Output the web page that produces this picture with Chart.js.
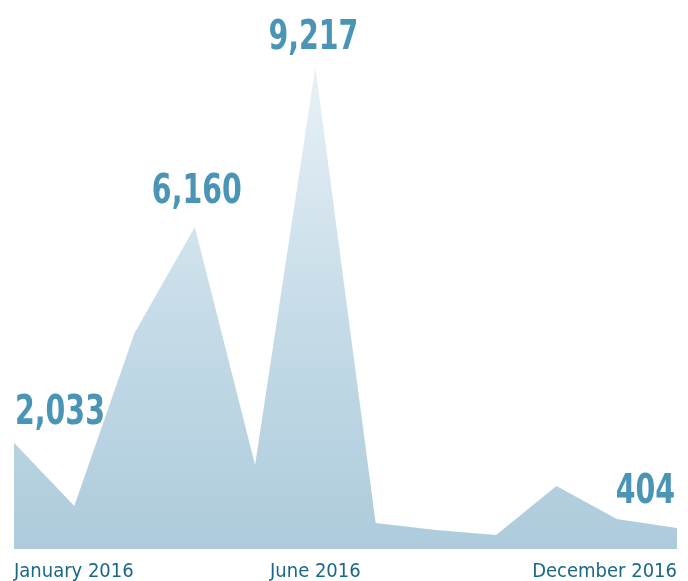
<!DOCTYPE html>
<html>
<head>
<meta charset="utf-8">
<script src="https://cdn.jsdelivr.net/npm/chart.js@4/dist/chart.umd.min.js"></script>
<style>
  html, body { margin: 0; padding: 0; background: #fff; }
  #wrap { width: 688px; height: 581px; }
</style>
</head>
<body>
<div id="wrap"><canvas id="grafico" width="688" height="581"></canvas></div>
<script>
const months = ['January 2016', 'February 2016', 'March 2016', 'April 2016', 'May 2016', 'June 2016',
  'July 2016', 'August 2016', 'September 2016', 'October 2016', 'November 2016', 'December 2016'];
const visits = [2033, 822, 4130, 6160, 1606, 9217, 497, 363, 268, 1205, 574, 404];
const shownTicks = [0, 5, 11];
const labelled = [0, 3, 5, 11];

const FONT = '"DejaVu Sans Condensed", "Liberation Sans Narrow", sans-serif';

// where each big number sits relative to its point: [align, dx, dy]
const labelPos = {
  0: ['left', 1, -19],
  3: ['center', 2, -24],
  5: ['center', -2, -18],
  11: ['right', -2, -25]
};

// draws the big numbers above selected points (squeezed to look condensed)
const valueLabels = {
  id: 'valueLabels',
  afterDatasetsDraw(chart) {
    const ctx = chart.ctx;
    const x = chart.scales.x, y = chart.scales.y;
    const squeeze = 0.79;
    ctx.save();
    ctx.font = 'bold 40px ' + FONT;
    ctx.fillStyle = '#4a95b5';
    ctx.textBaseline = 'alphabetic';
    labelled.forEach(i => {
      const p = labelPos[i];
      const px = x.getPixelForValue(i) + p[1];
      const py = y.getPixelForValue(visits[i]) + p[2];
      const txt = visits[i].toLocaleString('en-US');
      ctx.save();
      ctx.translate(px, py);
      ctx.scale(squeeze, 1);
      ctx.textAlign = p[0];
      ctx.fillText(txt, 0, 0);
      ctx.restore();
    });
    ctx.restore();
  }
};

const ctx = document.getElementById('grafico').getContext('2d');
new Chart(ctx, {
  type: 'line',
  data: {
    labels: months,
    datasets: [{
      data: visits,
      borderWidth: 0,
      pointRadius: 0,
      tension: 0,
      fill: 'origin',
      backgroundColor: function(c) {
        const area = c.chart.chartArea;
        if (!area) return '#b0d0e0';
        const g = c.chart.ctx.createLinearGradient(0, c.chart.scales.y.getPixelForValue(9217), 0, area.bottom);
        g.addColorStop(0, '#e9f1f7');
        g.addColorStop(0.5, '#c6dce8');
        g.addColorStop(1, '#adcbdc');
        return g;
      }
    }]
  },
  options: {
    responsive: false,
    animation: false,
    layout: { padding: { left: 14, right: 11, top: 0, bottom: 0 } },
    plugins: { legend: { display: false }, tooltip: { enabled: false } },
    scales: {
      x: {
        offset: false,
        grid: { display: false, drawTicks: false },
        border: { display: false },
        afterFit: function(s) { s.height = 32; },
        ticks: {
          autoSkip: false,
          maxRotation: 0,
          align: 'inner',
          padding: 11,
          color: '#1b6787',
          font: { family: FONT, size: 20 },
          callback: function(v, i) { return shownTicks.includes(i) ? months[i] : ''; }
        }
      },
      y: {
        display: false,
        min: 0,
        max: 10500
      }
    }
  },
  plugins: [valueLabels]
});
</script>
</body>
</html>
